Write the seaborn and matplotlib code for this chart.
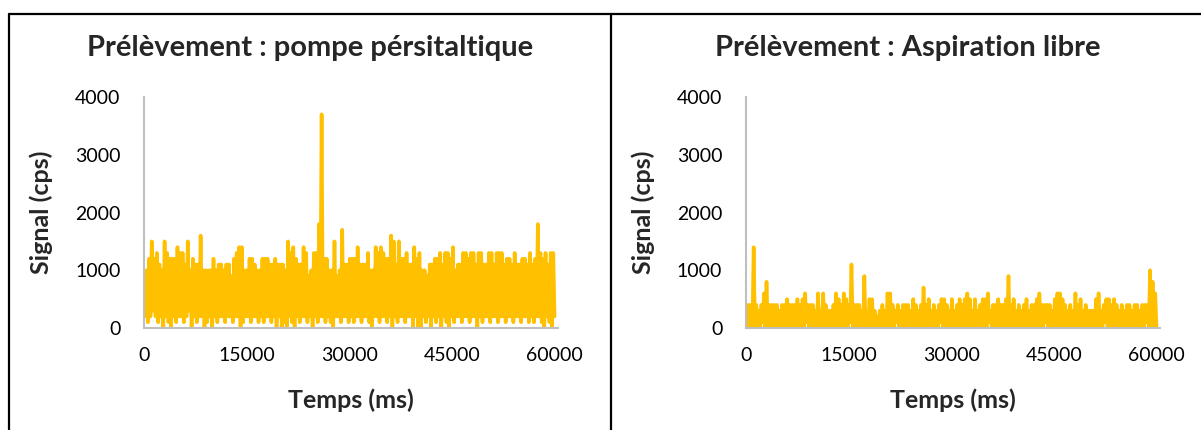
import numpy as np
import pandas as pd
import seaborn as sns
import matplotlib.pyplot as plt
from matplotlib.lines import Line2D

# valeurs (cps) : sommets et creux successifs du signal
pompe_pics = [
    1000, 1000, 1200, 1500, 1200, 1300, 1100, 1000, 1500, 1300,
    1200, 1200, 1200, 1400, 1300, 1300, 1100, 1500, 1000, 1200,
    1100, 1100, 1600, 1000, 1000, 1000, 1000, 1200, 1000, 1100,
    1100, 1000, 1100, 1100, 900, 1200, 1300, 1400, 1400, 1000,
    1000, 1200, 1200, 1100, 1000, 1000, 1200, 1200, 1200, 1100,
    1100, 1200, 1100, 1100, 1100, 1000, 1500, 1300, 1400, 1200,
    1100, 1100, 1400, 1300, 900, 1000, 1300, 1300, 1800, 3700,
    1200, 1200, 1000, 1000, 1500, 900, 1000, 1700, 1100, 1100,
    1200, 1200, 1200, 1400, 1100, 1100, 1100, 1300, 1000, 1000,
    1400, 1300, 1400, 1300, 1200, 1200, 1600, 1500, 1100, 1500,
    1200, 1200, 1300, 1100, 1100, 1400, 1200, 1300, 1000, 1000,
    900, 1100, 1100, 1200, 1200, 1300, 1100, 1300, 1300, 1200,
    1400, 1000, 1100, 1100, 1300, 1300, 1200, 1300, 1300, 1100,
    1300, 1300, 1100, 1100, 1300, 1300, 1100, 1300, 1300, 1300,
    1100, 1200, 1200, 1100, 1300, 1100, 1100, 1200, 1200, 1100,
    1300, 1100, 1200, 1800, 1300, 1200, 1300, 1100, 1300, 1300,
]
pompe_creux = [
    200, 100, 200, 300, 200, 100, 200, 0, 200, 100,
    0, 200, 100, 200, 200, 100, 200, 300, 0, 200,
    100, 200, 200, 0, 100, 200, 0, 200, 100, 200,
    200, 100, 200, 200, 100, 200, 200, 0, 100, 200,
    200, 100, 200, 200, 100, 200, 100, 200, 200, 100,
    200, 0, 200, 0, 100, 0, 200, 100, 0, 200,
    100, 200, 200, 100, 200, 0, 200, 100, 200, 200,
    100, 200, 100, 0, 200, 200, 100, 200, 200, 100,
    200, 100, 200, 200, 100, 200, 200, 100, 0, 200,
    200, 100, 200, 200, 100, 200, 0, 200, 100, 200,
    200, 100, 200, 200, 0, 200, 0, 0, 200, 100,
    200, 0, 200, 100, 200, 0, 200, 100, 0, 200,
    100, 200, 200, 100, 200, 200, 100, 200, 200, 0,
    200, 100, 200, 200, 100, 200, 200, 100, 200, 200,
    100, 200, 200, 100, 200, 200, 100, 200, 200, 100,
    200, 100, 200, 200, 100, 0, 200, 100, 0, 200,
]
libre_pics = [
    400, 400, 400, 1400, 400, 300, 400, 600, 800, 400,
    400, 400, 400, 300, 400, 400, 500, 400, 400, 400,
    500, 400, 500, 600, 400, 400, 400, 300, 600, 300,
    600, 400, 300, 300, 400, 600, 500, 400, 600, 500,
    400, 1100, 400, 400, 400, 300, 900, 300, 500, 500,
    300, 200, 300, 400, 300, 600, 600, 400, 300, 400,
    300, 400, 400, 400, 300, 500, 400, 300, 400, 700,
    400, 500, 300, 400, 300, 400, 500, 500, 400, 300,
    500, 300, 400, 500, 400, 500, 600, 500, 300, 500,
    300, 400, 500, 500, 600, 300, 400, 400, 500, 400,
    400, 500, 900, 400, 500, 300, 400, 300, 400, 500,
    300, 400, 400, 500, 600, 400, 400, 400, 400, 300,
    500, 600, 600, 500, 400, 300, 400, 300, 600, 400,
    500, 300, 400, 300, 300, 300, 500, 600, 300, 400,
    500, 500, 400, 500, 400, 300, 400, 300, 400, 400,
    300, 400, 400, 300, 400, 400, 400, 1000, 800, 600,
]
libre_creux = [
    0, 0, 0, 0, 0, 0, 100, 0, 0, 0,
    0, 0, 0, 0, 0, 0, 0, 0, 0, 0,
    0, 0, 0, 100, 0, 0, 0, 0, 0, 0,
    0, 0, 0, 0, 0, 0, 0, 0, 0, 0,
    100, 0, 0, 0, 0, 0, 0, 0, 0, 0,
    0, 0, 0, 0, 0, 0, 0, 0, 100, 0,
    0, 0, 0, 0, 0, 0, 0, 0, 0, 0,
    0, 0, 0, 0, 0, 100, 0, 0, 0, 0,
    0, 0, 0, 0, 0, 0, 0, 0, 0, 0,
    0, 0, 0, 0, 100, 0, 0, 0, 0, 0,
    0, 0, 0, 0, 0, 0, 0, 0, 0, 0,
    0, 0, 0, 0, 0, 0, 100, 0, 0, 0,
    0, 0, 0, 0, 0, 0, 0, 0, 0, 0,
    0, 0, 0, 0, 0, 0, 0, 0, 0, 100,
    0, 0, 0, 0, 0, 0, 0, 0, 0, 0,
    0, 0, 0, 0, 0, 100, 0, 0, 0, 0,
]
titres = ['Prélèvement : pompe pérsitaltique', 'Prélèvement : Aspiration libre']
yticks = [0, 1000, 2000, 3000, 4000]
xticks = [0, 15000, 30000, 45000, 60000]


def to_df(pics, creux):
    signal = np.column_stack([pics, creux]).ravel()
    temps = np.linspace(0, 60000, len(signal))
    return pd.DataFrame({'Temps (ms)': temps, 'Signal (cps)': signal})


sns.set_style('white')
plt.rcParams['font.family'] = ['Lato', 'DejaVu Sans']

fig = plt.figure(figsize=(12.01, 4.30), dpi=100)
axes = [fig.add_axes([0.1199, 0.2372, 0.3447, 0.5372]),
        fig.add_axes([0.6211, 0.2372, 0.3447, 0.5372])]
data = [to_df(pompe_pics, pompe_creux), to_df(libre_pics, libre_creux)]
title_x = [0.258, 0.756]

for ax, df, titre, tx in zip(axes, data, titres, title_x):
    sns.lineplot(data=df, x='Temps (ms)', y='Signal (cps)', ax=ax, color='#FFC000', lw=2.6)
    ax.set_xlim(0, 60500)
    ax.set_ylim(0, 4000)
    ax.set_xticks(xticks)
    ax.set_yticks(yticks)
    ax.set_xticklabels([str(v) for v in xticks])
    ax.tick_params(axis='both', length=0, labelsize=14, colors='#000000')
    ax.tick_params(axis='y', pad=17)
    ax.tick_params(axis='x', pad=14)
    for side in ['top', 'right']:
        ax.spines[side].set_visible(False)
    for side in ['left', 'bottom']:
        ax.spines[side].set_color('#BFBFBF')
        ax.spines[side].set_linewidth(1.5)
    ax.set_xlabel('Temps (ms)', fontsize=18, fontweight='bold')
    ax.set_ylabel('Signal (cps)', fontsize=18, fontweight='bold')
    ax.xaxis.set_label_coords(0.5, -0.26)
    ax.yaxis.set_label_coords(-0.22, 0.5)
    fig.text(tx, 0.888, titre, ha='center', va='center', fontsize=21, fontweight='bold')

# cadre du tableau
fig.add_artist(Line2D([9 / 1201, 9 / 1201], [0, 1 - 14 / 430], color='black', lw=1.6))
fig.add_artist(Line2D([9 / 1201, 1], [1 - 14 / 430, 1 - 14 / 430], color='black', lw=1.6))
fig.add_artist(Line2D([611 / 1201, 611 / 1201], [0, 1 - 14 / 430], color='black', lw=1.6))

fig.savefig('out.png', dpi=100)
